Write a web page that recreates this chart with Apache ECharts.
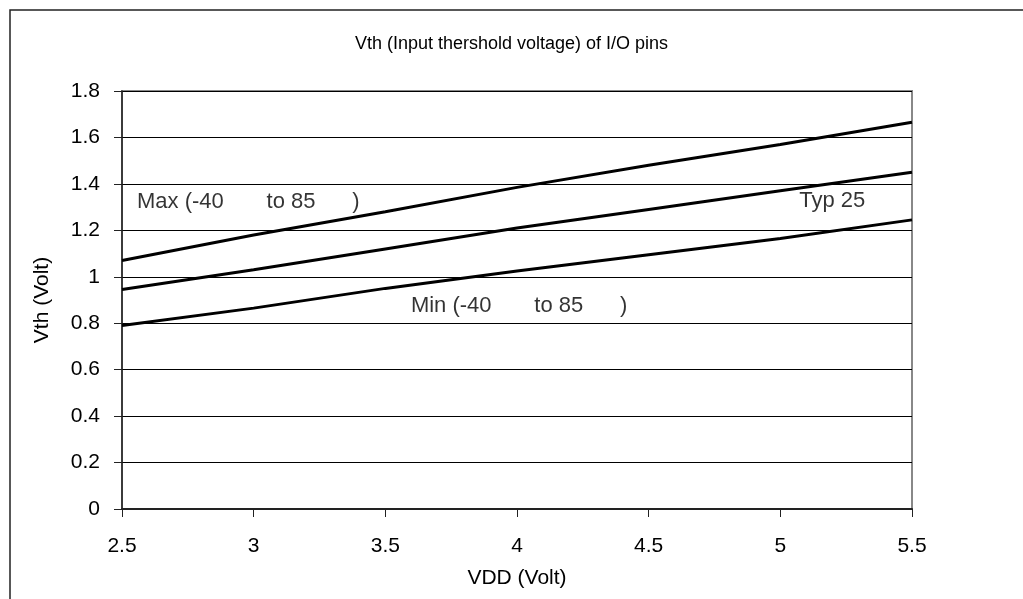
<!DOCTYPE html>
<html>
<head>
<meta charset="utf-8">
<script src="https://cdn.jsdelivr.net/npm/echarts@6/dist/echarts.min.js"></script>
<style>html,body{margin:0;padding:0;background:#fff}#c{width:1023px;height:599px}</style>
</head>
<body>
<div id="c"></div>
<script>
const vdd = [2.5, 3, 3.5, 4, 4.5, 5, 5.5];
const vthMax = [1.07, 1.18, 1.28, 1.385, 1.48, 1.57, 1.665];
const vthTyp = [0.945, 1.03, 1.12, 1.21, 1.29, 1.37, 1.45];
const vthMin = [0.79, 0.865, 0.95, 1.025, 1.095, 1.165, 1.245];
const labelMax = 'Max (-40       to 85      )';
const labelTyp = 'Typ 25';
const labelMin = 'Min (-40       to 85      )';
const titleText = 'Vth (Input thershold voltage) of I/O pins';

const FONT = 'Liberation Sans, Arial, sans-serif';
const chart = echarts.init(document.getElementById('c'), null, {renderer: 'canvas'});
const pair = arr => vdd.map((x, i) => [x, arr[i]]);
const lineSeries = (name, arr) => ({
  name, type: 'line', data: pair(arr), symbol: 'none', smooth: false,
  lineStyle: {color: '#000', width: 3}, z: 5, animation: false
});
const textSeries = (txt, x, y) => ({
  type: 'scatter', data: [[x, y]], symbolSize: 0, silent: true, animation: false,
  label: {show: true, formatter: txt, position: 'right', distance: 0,
    color: '#000', fontFamily: FONT, fontSize: 22}
});

chart.setOption({
  animation: false,
  backgroundColor: '#fff',
  title: {text: titleText, left: 'center', top: 30,
    textStyle: {fontFamily: FONT, fontSize: 18, fontWeight: 'normal', color: '#000'}},
  grid: {left: 122, right: 111, top: 91, bottom: 90, show: true,
    borderColor: '#888', borderWidth: 2, backgroundColor: 'transparent'},
  xAxis: {
    type: 'value', min: 2.5, max: 5.5, interval: 0.5,
    name: 'VDD (Volt)', nameLocation: 'middle', nameGap: 59,
    nameTextStyle: {fontFamily: FONT, fontSize: 21, color: '#000'},
    axisLine: {show: true, lineStyle: {color: '#222', width: 2}},
    axisTick: {show: true, inside: false, length: 8, lineStyle: {color: '#222'}},
    axisLabel: {fontFamily: FONT, fontSize: 21, color: '#000', margin: 27},
    splitLine: {show: false}
  },
  yAxis: {
    type: 'value', min: 0, max: 1.8, interval: 0.2,
    name: 'Vth (Volt)', nameLocation: 'middle', nameGap: 69, nameRotate: 90,
    nameTextStyle: {fontFamily: FONT, fontSize: 21, color: '#000'},
    axisLine: {show: true, lineStyle: {color: '#222', width: 1.5}},
    axisTick: {show: true, length: 8, lineStyle: {color: '#222'}},
    axisLabel: {fontFamily: FONT, fontSize: 21, color: '#000', margin: 22,
      formatter: v => String(Math.round(v * 10) / 10)},
    splitLine: {show: true, lineStyle: {color: '#000', width: 1}}
  },
  graphic: [{type: 'rect', shape: {x: 10, y: 10, width: 1200, height: 800},
    style: {fill: 'none', stroke: '#222', lineWidth: 1.5}, silent: true, z: 100}],
  series: [
    lineSeries('Max', vthMax),
    lineSeries('Typ', vthTyp),
    lineSeries('Min', vthMin),
    textSeries(labelMax, 2.557, 1.322),
    textSeries(labelTyp, 5.072, 1.326),
    textSeries(labelMin, 3.597, 0.876)
  ]
});
</script>
</body>
</html>
